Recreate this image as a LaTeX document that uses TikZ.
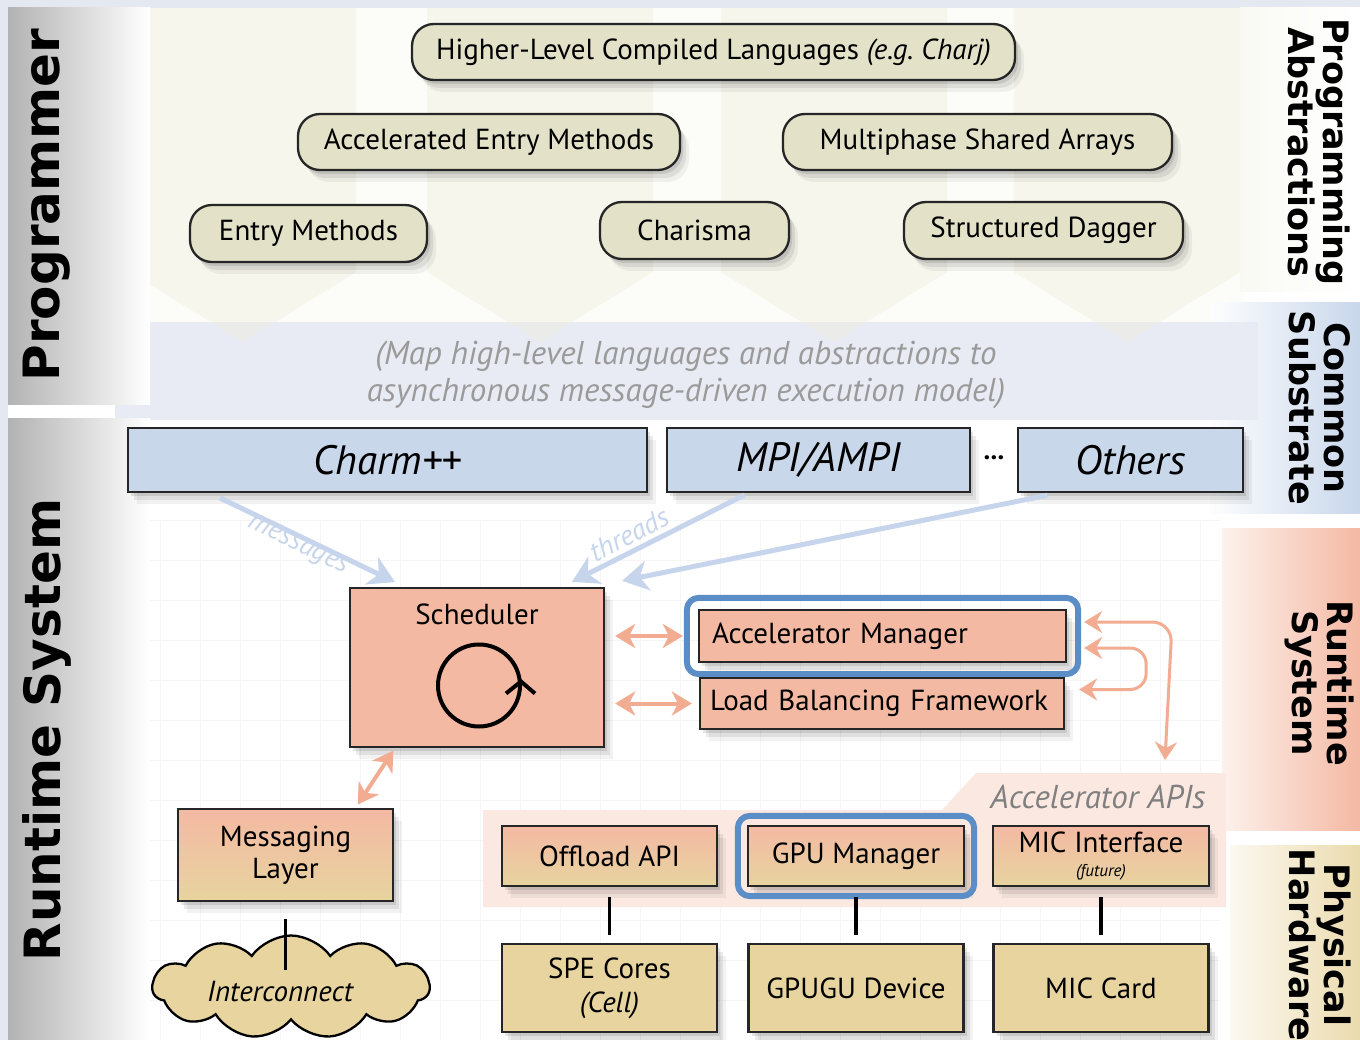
\documentclass[tikz,border=0pt]{standalone}
\usepackage{fontspec}
\setmainfont{PT Sans}
\newfontfamily\sidefont{DejaVu Sans}
\usetikzlibrary{shapes.symbols,shadows,arrows.meta,calc,fit}
\definecolor{beigebox}{HTML}{E3E2C8}
\definecolor{bluebox}{HTML}{C9D7EB}
\definecolor{salmonbox}{HTML}{F4B9A3}
\definecolor{tanbox}{HTML}{E7D49F}
\definecolor{frameblue}{HTML}{5B8DC6}
\definecolor{arrowblue}{HTML}{C6D5EC}
\definecolor{arrowsalmon}{HTML}{F2AC92}
\definecolor{subtext}{HTML}{9A9A9A}
\definecolor{apitext}{HTML}{808080}
\definecolor{outerbg}{HTML}{E3E8F1}
\definecolor{progbg}{HTML}{FCFCF9}
\definecolor{chevfill}{HTML}{EFEFDF}
\definecolor{subbg}{HTML}{E9EBF4}
\definecolor{apibg}{HTML}{FBE9E1}
\begin{document}
\begin{tikzpicture}[x=1pt,y=-1pt,
  shadowed/.style={
    general shadow={shadow xshift=3pt,shadow yshift=-4pt,fill=black,opacity=.10},
    general shadow={shadow xshift=6pt,shadow yshift=-8pt,fill=black,opacity=.08},
    general shadow={shadow xshift=9pt,shadow yshift=-12pt,fill=black,opacity=.05}},
  abox/.style={shadowed,draw=black!85,line width=2.3pt,rounded corners=22pt,fill=beigebox,
    font=\fontsize{29}{32}\selectfont,inner sep=0pt},
  cbox/.style={shadowed,draw=black!85,line width=2.3pt,fill=bluebox,
    font=\fontsize{41}{44}\selectfont\itshape,inner sep=0pt,minimum height=64pt},
  rbox/.style={shadowed,draw=black!85,line width=2.3pt,fill=salmonbox,
    font=\fontsize{29}{32}\selectfont,inner sep=0pt},
  gbox/.style={shadowed,draw=black!85,line width=2.3pt,top color=salmonbox,bottom color=tanbox,
    font=\fontsize{29}{32}\selectfont,inner sep=0pt,align=center},
  hbox/.style={shadowed,draw=black!85,line width=2.3pt,fill=tanbox,
    font=\fontsize{29}{34}\selectfont,inner sep=0pt,align=center,minimum width=215pt,minimum height=88pt},
  sidelbl/.style={font=\sidefont\bfseries\fontsize{35}{35}\selectfont,align=center,rotate=-90},
  leftlbl/.style={font=\sidefont\bfseries\fontsize{50}{50}\selectfont,rotate=90},
  bluearrow/.style={draw=arrowblue,line width=5pt,-{Stealth[length=26pt,width=30pt,inset=8pt]}},
  salarrow/.style={draw=arrowsalmon,line width=4pt,{Stealth[length=20pt,width=24pt,inset=6pt]}-{Stealth[length=20pt,width=24pt,inset=6pt]}},
  loopline/.style={draw=arrowsalmon,line width=3pt,rounded corners=20pt},
  blueframe/.style={draw=frameblue,line width=6pt,rounded corners=12pt,inner sep=11pt},
  vline/.style={draw=black,line width=3.5pt},
  arrlbl/.style={font=\fontsize{28}{30}\selectfont\itshape,text=arrowblue}
]
\useasboundingbox (0,0) rectangle (1360,1040);
% ---------- backgrounds ----------
\fill[outerbg] (0,0) rectangle (1360,1040);
\fill[white] (8,8) rectangle (1360,1040);
\fill[progbg] (150,8) rectangle (1245,322);
\shade[left color=white!96!bluebox,right color=bluebox] (1210,303) rectangle (1360,513);
\fill[subbg] (115,322) rectangle (1258,420);
\foreach \cx in {243,540,834,1127}
  \fill[chevfill,opacity=.45] (\cx-113,8) -- (\cx+113,8) -- (\cx+113,272) -- (\cx,342) -- (\cx-113,272) -- cycle;
\draw[black!4,line width=.7pt,step=40pt] (150,520) grid (1220,1040);
% left panels
\shade[left color=black!30,right color=white] (8,8) rectangle (150,405);
\shade[left color=black!30,right color=white] (8,418) rectangle (150,1040);
% right panels
\shade[left color=progbg!80!chevfill,right color=white] (1240,8) rectangle (1360,292);
\shade[left color=salmonbox!20,right color=salmonbox] (1222,528) rectangle (1360,830);
\shade[left color=tanbox!15,right color=tanbox!85] (1230,845) rectangle (1360,1040);
% accelerator API band
\fill[apibg] (483,810) -- (942,810) -- (976,773) -- (1226,773) -- (1226,907) -- (483,907) -- cycle;
% ---------- side labels ----------
\node[leftlbl] (lprog) at (47,205) {Programmer};
\node[leftlbl] (lrts) at (47,730) {Runtime System};
\node[sidelbl] (rpa) at (1319,152) {Programming\\Abstractions};
\node[sidelbl] (rcs) at (1320,408) {Common\\Substrate};
\node[sidelbl] (rrs) at (1320,683) {Runtime\\System};
\node[sidelbl] (rph) at (1320,945) {Physical\\Hardware};
% ---------- programming abstractions ----------
\node[abox,minimum width=603pt,minimum height=56pt] (hl) at (713.5,52)
  {Higher-Level Compiled Languages \textit{(e.g.\ Charj)}};
\node[abox,minimum width=382pt,minimum height=56pt] (aem) at (489,142) {Accelerated Entry Methods};
\node[abox,minimum width=389pt,minimum height=56pt] (msa) at (977.5,142) {Multiphase Shared Arrays};
\node[abox,minimum width=237pt,minimum height=57pt] (em) at (308.5,233.5) {Entry Methods};
\node[abox,minimum width=189pt,minimum height=57pt] (cha) at (694.5,230.5) {Charisma};
\node[abox,minimum width=279pt,minimum height=57pt] (sdag) at (1043.5,230.5) {Structured Dagger};
% ---------- common substrate ----------
\node[font=\fontsize{33}{37}\selectfont\itshape,text=subtext,align=center] (subtxt) at (686,375)
  {(Map high-level languages and abstractions to\\asynchronous message-driven execution model)};
\node[cbox,minimum width=519pt] (charm) at (387.5,460) {Charm++};
\node[cbox,minimum width=303pt] (mpi) at (818.5,460) {MPI/AMPI};
\node[font=\fontsize{27}{30}\selectfont\bfseries] (dots) at (994,458) {...};
\node[cbox,minimum width=225pt] (others) at (1130.5,460) {Others};
% ---------- runtime system ----------
\node[rbox,minimum width=254pt,minimum height=159pt,
  label={[name=schedlbl,font=\fontsize{29}{32}\selectfont,anchor=north,yshift=-13pt]north:Scheduler}]
  (sched) at (477,667.5) {};
\draw[line width=4pt] ($(sched.center)+(2,18)$) circle[radius=41pt];
\draw[line width=4pt] ($(sched.center)+(29,26)$) -- ($(sched.center)+(44,14)$) -- ($(sched.center)+(58,26)$);
\node[rbox,minimum width=367pt,minimum height=52pt,text width=341pt,align=left] (am) at (882.5,636) {Accelerator Manager};
\node[blueframe,fit=(am)] (amframe) {};
\node[rbox,minimum width=364pt,minimum height=51pt,text width=344pt,align=left] (lbf) at (882,703.5) {Load Balancing Framework};
\coordinate (apitop) at (1165,760);
% ---------- lower layer ----------
\node[gbox,minimum width=215pt,minimum height=92pt] (msg) at (285.5,855) {Messaging\\Layer};
\node[cloud,cloud puffs=11,cloud puff arc=110,aspect=2.7,draw=black,line width=2.3pt,fill=tanbox,
  minimum width=277pt,minimum height=103pt,inner sep=0pt] (ic) at (291,987) {};
\node[font=\fontsize{29}{32}\selectfont\itshape] (ictxt) at (280,992) {Interconnect};
\node[font=\fontsize{33}{36}\selectfont\itshape,text=apitext] (apilbl) at (1098,797) {Accelerator APIs};
\node[gbox,minimum width=215pt,minimum height=60pt] (off) at (609.5,856) {Offload API};
\node[gbox,minimum width=216pt,minimum height=60pt] (gpum) at (856,856) {GPU Manager};
\node[blueframe,fit=(gpum),inner sep=9pt] (gpuframe) {};
\node[gbox,minimum width=216pt,minimum height=60pt] (mici) at (1101,856)
  {MIC Interface\\[-8pt]{\fontsize{17}{18}\selectfont\itshape (future)}};
\node[hbox] (spe) at (609.5,988) {SPE Cores\\\textit{(Cell)}};
\node[hbox] (gpud) at (856,988) {GPUGU Device};
\node[hbox] (micc) at (1101,988) {MIC Card};
% ---------- connectors ----------
\draw[bluearrow,shorten <=11pt,shorten >=11pt] ([xshift=-177.5pt]charm.south) -- ([xshift=-72pt]sched.north)
  node[pos=0.47,sloped,below=-6pt,arrlbl] (msglbl) {messages};
\draw[bluearrow,shorten <=4pt,shorten >=11pt] ([xshift=-70.5pt]mpi.south) -- ([xshift=85pt]sched.north)
  node[pos=0.6,sloped,above=1pt,arrlbl] (thrlbl) {threads};
\draw[bluearrow,shorten <=11pt] ([xshift=-72.5pt]others.south) -- ([xshift=17pt,yshift=6pt]sched.north east);
\draw[salarrow,shorten <=10pt,shorten >=1pt] (sched.east |- amframe.west) -- (amframe.west);
\draw[salarrow,shorten <=10pt,shorten >=7pt] (sched.east |- lbf.west) -- (lbf.west);
\draw[salarrow,shorten <=4pt,shorten >=3pt] ([xshift=70pt]msg.north) -- ([xshift=-82pt]sched.south);
% loops on the right
\draw[loopline,{Stealth[length=18pt,width=22pt,inset=6pt]}-{Stealth[length=18pt,width=22pt,inset=6pt]}]
  ([xshift=3pt,yshift=14pt]amframe.east) -- ++(88,0) -- (apitop);
\draw[loopline,rounded corners=16pt,{Stealth[length=18pt,width=22pt,inset=6pt]}-{Stealth[length=18pt,width=22pt,inset=6pt]}]
  ([xshift=3pt,yshift=-12pt]amframe.east) -- ++(62,0) |- ([xshift=14pt,yshift=14pt]lbf.east);
% vertical links
\draw[vline,shorten <=17pt] (msg.south) -- ([yshift=17pt]msg.south |- ic.center);
\draw[vline,shorten <=10pt,shorten >=8pt] (off.south) -- (spe.north);
\draw[vline,shorten <=10pt,shorten >=8pt] (gpum.south) -- (gpud.north);
\draw[vline,shorten <=10pt,shorten >=8pt] (mici.south) -- (micc.north);
\end{tikzpicture}
\end{document}
